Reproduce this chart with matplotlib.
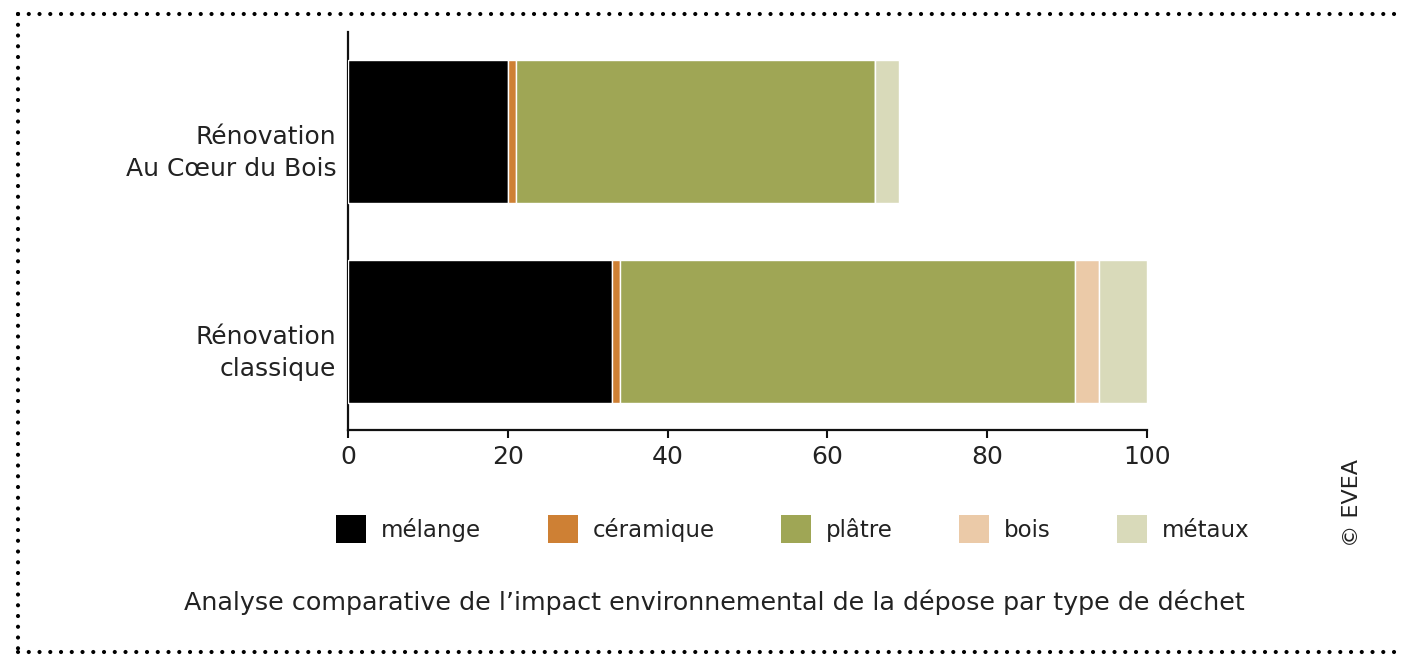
import matplotlib
matplotlib.use("Agg")
import matplotlib.pyplot as plt
import matplotlib.transforms as mtransforms
from matplotlib.lines import Line2D
from matplotlib.patches import Patch

plt.rcParams["font.family"] = ["DejaVu Sans"]

# data
scenarios = ["Rénovation\nclassique", "Rénovation\nAu Cœur du Bois"]
waste_types = ["mélange", "céramique", "plâtre", "bois", "métaux"]
melange = [33, 20]
ceramique = [1, 1]
platre = [57, 45]
bois = [3, 0]
metaux = [6, 3]
x_ticks = [0, 20, 40, 60, 80, 100]
caption = "Analyse comparative de l’impact environnemental de la dépose par type de déchet"
credit = "© EVEA"

colors = ["#000000", "#CE8034", "#9FA655", "#EBCAA8", "#D9DABA"]
series = [melange, ceramique, platre, bois, metaux]

fig = plt.figure(figsize=(14.01, 6.56), dpi=100)
ax = fig.add_axes([348 / 1401, 226 / 656, 799 / 1401, 398 / 656])

y_pos = list(range(len(scenarios)))
left = [0] * len(scenarios)
for vals, col in zip(series, colors):
    ax.barh(y_pos, vals, left=left, height=0.715, color=col,
            edgecolor="white", linewidth=1.0, zorder=3)
    left = [l + v for l, v in zip(left, vals)]

ax.set_xlim(0, 100)
ax.set_ylim(-0.495, 1.495)
ax.set_xticks(x_ticks)
ax.set_yticks(y_pos, scenarios)
ax.tick_params(axis="x", labelsize=18, length=6, width=1.5, color="#111111",
               labelcolor="#222222", pad=5)
ax.tick_params(axis="y", labelsize=18, length=0, labelcolor="#222222", pad=8.5)
# the labels sit a bit below the bar centre in the original
shift_down = mtransforms.ScaledTranslation(0, -0.15, fig.dpi_scale_trans)
for lbl in ax.get_yticklabels():
    lbl.set_horizontalalignment("right")
    lbl.set_multialignment("right")
    lbl.set_linespacing(1.45)
    lbl.set_transform(lbl.get_transform() + shift_down)

for spine in ("top", "right"):
    ax.spines[spine].set_visible(False)
for spine in ("left", "bottom"):
    ax.spines[spine].set_linewidth(1.6)
    ax.spines[spine].set_color("#111111")

handles = [Patch(facecolor=c, edgecolor="none", label=n) for c, n in zip(colors, waste_types)]
fig.legend(handles=handles, loc="center", bbox_to_anchor=(793 / 1401, 1 - 529 / 656),
           ncol=5, frameon=False, fontsize=16.5, handlelength=1.31, handleheight=1.5,
           handletextpad=0.65, columnspacing=2.9, labelcolor="#222222")

fig.text(714 / 1401, 1 - 602 / 656, caption, ha="center", va="center",
         fontsize=18.3, color="#222222")
fig.text(1352 / 1401, 1 - 503 / 656, credit, ha="center", va="center",
         rotation=90, fontsize=16, color="#222222")

# dotted frame
dot_style = dict(color="black", linewidth=3.0, linestyle=(0, (0.01, 2.57)),
                 dash_capstyle="round", solid_capstyle="round")
x0, x1 = 18 / 1401, 1.01
y0, y1 = 1 - 652 / 656, 1 - 14 / 656
for xs, ys in [([x0, x1], [y1, y1]), ([x0, x0], [y1, y0]), ([x0, x1], [y0, y0])]:
    fig.add_artist(Line2D(xs, ys, transform=fig.transFigure, **dot_style))

fig.savefig("out.png", dpi=100)
